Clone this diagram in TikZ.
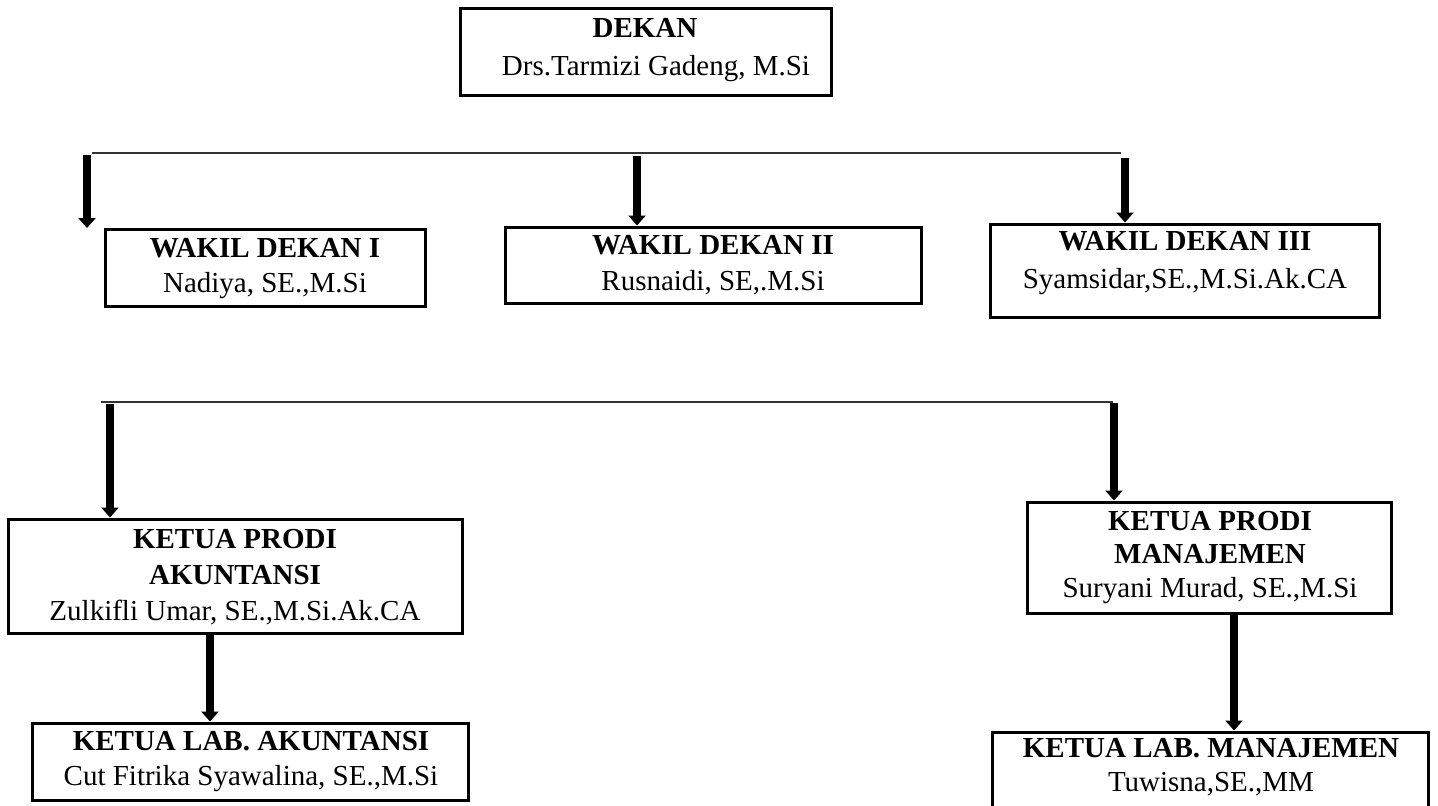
\documentclass[tikz,border=0pt]{standalone}
\usepackage{fontspec}
\setmainfont{Liberation Serif}
\usetikzlibrary{arrows.meta,fit}
\tikzset{
  box/.style={draw, line width=1.5pt, inner sep=0pt, fill=none},
  txt/.style={align=center, anchor=base, inner sep=0pt, font=\fontsize{14.5pt}{#1}\selectfont},
  txt/.default=17.5pt,
  thinline/.style={line width=0.9pt, draw=black!80},
  arr/.style={line width=4pt, -{Triangle[width=8.5pt,length=5pt]}},
}
\begin{document}
\begin{tikzpicture}[x=0.5pt,y=-0.5pt]
\useasboundingbox (0,0) rectangle (1438,805);
\fill[white] (0,0) rectangle (1438,805);
% boxes
\node[box, fit={(460,8) (831,95)}] (dekan) {};
\node[box, fit={(105,229) (425,306)}] (wd1) {};
\node[box, fit={(505,227) (921,303)}] (wd2) {};
\node[box, fit={(990,224) (1379,317)}] (wd3) {};
\node[box, fit={(8,519) (462,633)}] (kpa) {};
\node[box, fit={(1027,502) (1391,613)}] (kpm) {};
\node[box, fit={(32,723) (468,800)}] (kla) {};
\node[box, fit={(992,732) (1428,815)}] (klm) {};
% texts (anchor = baseline of the last line)
\node[txt=19pt] (tdekan) at (650.5,75) {\textbf{DEKAN}\hspace*{5.5pt}\\\hspace*{5.5pt}Drs.Tarmizi Gadeng, M.Si};
\node[txt=17.5pt] (twd1) at (265,292) {\textbf{WAKIL DEKAN I}\\Nadiya, SE.,M.Si};
\node[txt=18pt] (twd2) at (713,290) {\textbf{WAKIL DEKAN II}\\Rusnaidi, SE,.M.Si};
\node[txt=19pt] (twd3) at (1185,288) {\textbf{WAKIL DEKAN III}\\Syamsidar,SE.,M.Si.Ak.CA};
\node[txt=18pt] (tkpa) at (235,620) {\textbf{KETUA PRODI}\\\textbf{AKUNTANSI}\\Zulkifli Umar, SE.,M.Si.Ak.CA};
\node[txt=16.75pt] (tkpm) at (1210,597) {\textbf{KETUA PRODI}\\\textbf{MANAJEMEN}\\Suryani Murad, SE.,M.Si};
\node[txt=17.5pt] (tkla) at (251,785) {\textbf{KETUA LAB. AKUNTANSI}\\Cut Fitrika Syawalina, SE.,M.Si};
\node[txt=17pt] (tklm) at (1211,791) {\textbf{KETUA LAB. MANAJEMEN}\\Tuwisna,SE.,MM};
% horizontal lines
\coordinate (l1a) at (92,153);
\coordinate (l1b) at (1121,153);
\coordinate (l2a) at (101,402);
\coordinate (l2b) at (1113,402);
\draw[thinline] (l1a) -- (l1b);
\draw[thinline] (l2a) -- (l2b);
% arrows
\coordinate (a1s) at (87,155);
\coordinate (a1e) at (87,228);
\coordinate (a2s) at (637,156);
\coordinate (a3s) at (1125,158);
\coordinate (a4s) at (110,404);
\coordinate (a5s) at (1114,403);
\draw[arr] (a1s) -- (a1e);
\draw[arr] (a2s) -- (a2s |- wd2.north);
\draw[arr] (a3s) -- (a3s |- wd3.north);
\draw[arr] (a4s) -- (a4s |- kpa.north);
\draw[arr] (a5s) -- (a5s |- kpm.north);
\draw[arr] (kpa.south -| 210,0) -- (kla.north -| 210,0);
\draw[arr] (kpm.south -| 1234,0) -- (klm.north -| 1234,0);
\end{tikzpicture}
\end{document}
